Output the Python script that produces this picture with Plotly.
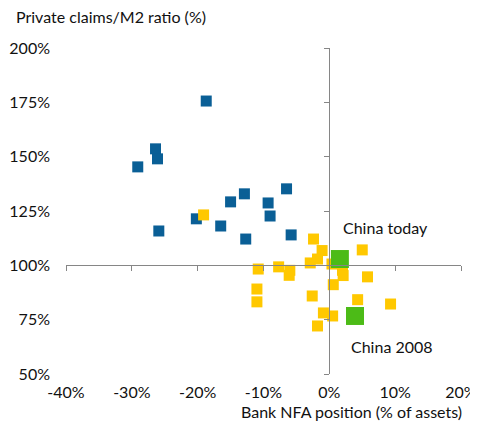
import plotly.graph_objects as go

# Bank NFA position (% of assets) vs private claims/M2 ratio (%)
blue_x = [-18.7, -26.4, -26.1, -29.1, -6.5, -12.9, -15.0, -9.3, -9.0, -20.2, -16.5, -25.9, -12.7, -5.8]
blue_y = [175.6, 153.6, 149.0, 145.3, 135.2, 132.9, 129.2, 128.7, 122.7, 121.4, 118.1, 115.8, 112.1, 114.0]

yellow_x = [-19.1, -2.4, -1.1, -1.8, -2.9, -7.7, -6.0, -6.1, 0.4, 2.0, 2.1, 5.0, 5.8, 0.6,
            -2.6, 4.3, 9.3, -0.9, 0.5, -1.8, -10.8, -11.0, -11.0]
yellow_y = [123.2, 112.1, 106.8, 102.9, 101.1, 99.3, 97.7, 95.4, 100.6, 97.7, 95.3, 107.1, 94.7, 91.1,
            85.9, 84.2, 82.2, 78.1, 76.7, 72.1, 98.3, 89.1, 83.2]

china_x = [1.6, 3.9]
china_y = [102.9, 76.7]
china_labels = ["China today", "China 2008"]
label_x = [1.8, 3.0]
label_y = [117.3, 62.6]

x_ticks = [-40, -30, -20, -10, 0, 10, 20]
x_ticktext = ["-40%", "-30%", "-20%", "-10%", "0%", "10%", "20%"]
y_ticks = [50, 75, 100, 125, 150, 175, 200]
y_ticktext = ["50%", "75%", "100%", "125%", "150%", "175%", "200%"]

FONT = "Lato"
FS = 16
AX = "#868686"
TXT = "#111111"

fig = go.Figure()
fig.add_trace(go.Scatter(x=blue_x, y=blue_y, mode="markers",
                         marker=dict(symbol="square", size=11, color="#0A5F96"),
                         showlegend=False, hoverinfo="x+y"))
fig.add_trace(go.Scatter(x=yellow_x, y=yellow_y, mode="markers",
                         marker=dict(symbol="square", size=11, color="#FFC800"),
                         showlegend=False, hoverinfo="x+y"))
fig.add_trace(go.Scatter(x=china_x, y=china_y, mode="markers",
                         marker=dict(symbol="square", size=18, color="#4CBB17"),
                         showlegend=False, hoverinfo="x+y"))
# carrier for the crossing axes
fig.add_trace(go.Scatter(x=[], y=[], xaxis="x2", yaxis="y2", showlegend=False))

for t, lx, ly in zip(china_labels, label_x, label_y):
    fig.add_annotation(x=lx, y=ly, xref="x", yref="y", text=t, showarrow=False,
                       xanchor="left", yanchor="middle",
                       font=dict(family=FONT, size=FS, color=TXT))

fig.add_annotation(x=-0.132, y=1.096, xref="paper", yref="paper",
                   text="Private claims/M2 ratio (%)", showarrow=False,
                   xanchor="left", yanchor="middle",
                   font=dict(family=FONT, size=FS, color=TXT))
fig.add_annotation(x=1.008, y=-0.115, xref="paper", yref="paper",
                   text="Bank NFA position (% of assets)", showarrow=False,
                   xanchor="right", yanchor="middle",
                   font=dict(family=FONT, size=FS, color=TXT))

fig.update_layout(
    width=470, height=414,
    margin=dict(l=58, r=17, t=40, b=48),
    paper_bgcolor="white", plot_bgcolor="white",
    font=dict(family=FONT, size=FS, color=TXT),
    xaxis=dict(range=[-40, 20], tickvals=x_ticks, ticktext=x_ticktext,
               showgrid=False, zeroline=False, showline=False, ticks="",
               ticklabelstandoff=7, ticklabeloverflow="allow",
               fixedrange=True, automargin=False),
    yaxis=dict(range=[50, 200], tickvals=y_ticks, ticktext=y_ticktext,
               showgrid=False, zeroline=False, showline=False, ticks="",
               ticklabelstandoff=15, ticklabeloverflow="allow",
               fixedrange=True, automargin=False),
    xaxis2=dict(range=[-40, 20], overlaying="x", anchor="free", position=1/3,
                tickvals=x_ticks, showticklabels=False, showgrid=False, zeroline=False,
                showline=True, linecolor=AX, linewidth=1, automargin=False,
                ticks="outside", ticklen=5, tickcolor=AX, tickwidth=1, side="bottom"),
    yaxis2=dict(range=[50, 200], overlaying="y", anchor="free", position=2/3,
                tickvals=y_ticks, showticklabels=False, showgrid=False, zeroline=False,
                showline=True, linecolor=AX, linewidth=1, automargin=False,
                ticks="outside", ticklen=5, tickcolor=AX, tickwidth=1, side="left"),
)

fig.write_html("out.html")
